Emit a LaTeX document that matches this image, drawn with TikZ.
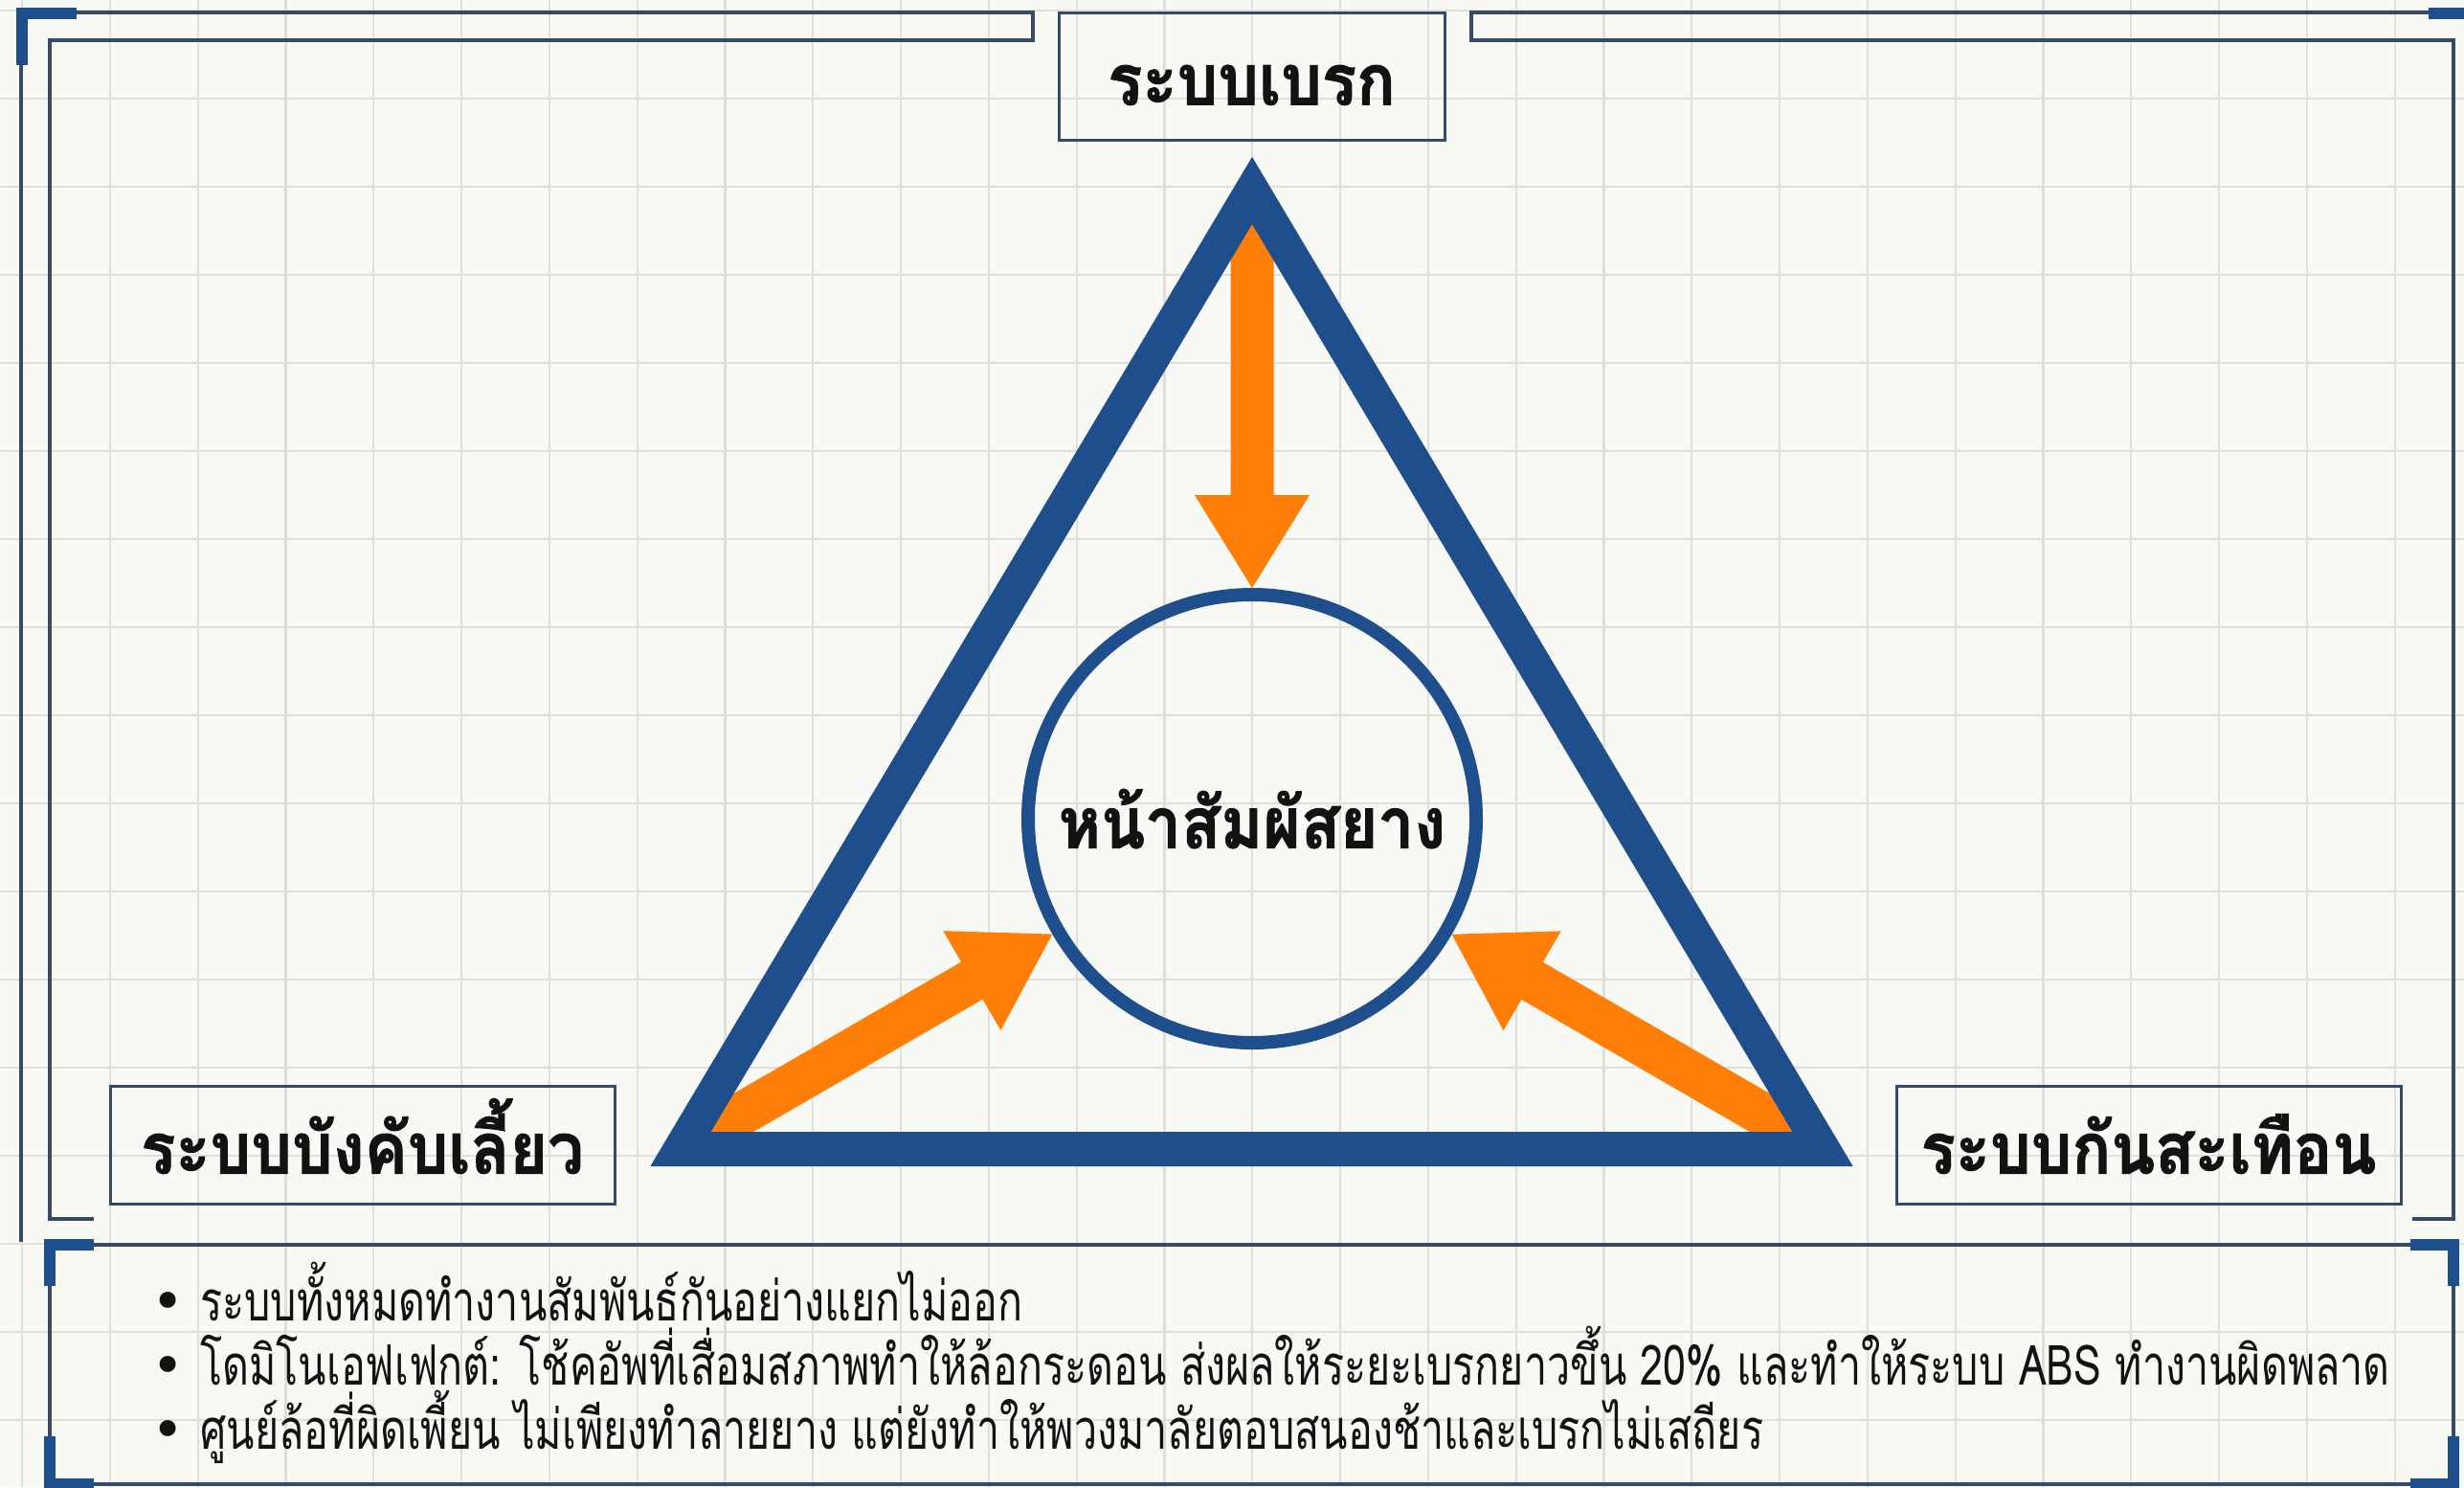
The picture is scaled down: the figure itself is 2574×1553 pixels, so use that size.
\documentclass[tikz,border=0pt]{standalone}
\usepackage{fontspec}
\usetikzlibrary{calc}
\newfontfamily\thaiN[Script=Thai,FakeStretch=0.742]{Loma}
\newfontfamily\thaiH[Script=Thai,FakeStretch=0.91,BoldFeatures={FakeBold=1.3}]{Loma}
\newfontfamily\dvs{DejaVu Sans}
\definecolor{bgc}{RGB}{248,248,244}
\definecolor{gridc}{RGB}{224,222,216}
\definecolor{framec}{RGB}{52,74,104}
\definecolor{navy}{RGB}{30,78,140}
\definecolor{flowc}{RGB}{255,126,8}
\definecolor{inkc}{RGB}{18,18,18}
\tikzset{
  gridline/.style={draw=gridc, line width=2.2pt},
  frameline/.style={draw=framec, line width=4pt},
  thickcorner/.style={draw=navy, line width=12pt, line join=miter},
  hdrbox/.style={draw=framec, line width=3pt, inner sep=0pt, text=inkc, text depth=0pt,
    font=\thaiH\bfseries\fontsize{74}{84}\selectfont},
  flow/.style={fill=flowc},
  noteline/.style={anchor=base west, inner sep=0pt, text=inkc,
    font=\thaiN\fontsize{58}{67}\selectfont},
}
\newcommand{\bul}{{\dvs •}\hspace{17pt}}
\begin{document}
\begin{tikzpicture}[x=1pt,y=-1pt]
\fill[bgc] (0,0) rectangle (2574,1553);
\useasboundingbox (0,0) rectangle (2574,1553);
\clip (0,0) rectangle (2574,1553);
% grid
\foreach \i in {0,...,27} \draw[gridline] ({23+91.8*\i},0) -- ({23+91.8*\i},1553);
\foreach \j in {0,...,16} \draw[gridline] (0,{11+92*\j}) -- (2574,{11+92*\j});
% outer / inner frame
\draw[frameline] (22,1297) -- (22,13) -- (1079,13) -- (1079,42) -- (52,42) -- (52,1273) -- (98,1273);
\draw[frameline] (2580,13) -- (1537,13) -- (1537,42) -- (2563,42) -- (2563,1273) -- (2520,1273);
\draw[thickcorner] (23,68) -- (23,13.5) -- (80,13.5);
\draw[thickcorner] (2537,13.5) -- (2590,13.5);
% bottom panel
\draw[frameline] (52,1300) rectangle (2563,1550);
\draw[thickcorner] (52,1343) -- (52,1300) -- (98,1300);
\draw[thickcorner] (2518,1300) -- (2563,1300) -- (2563,1343);
\draw[thickcorner] (52,1500) -- (52,1550) -- (98,1550);
\draw[thickcorner] (2518,1550) -- (2563,1550) -- (2563,1500);
% boxes
\node[hdrbox, text height=60pt, minimum width=403pt, minimum height=133pt] (brake) at (1307.5,79.5) {ระบบเบรก};
\node[hdrbox, text height=60pt, minimum width=527pt, minimum height=123pt] (steer) at (378.5,1195.5) {ระบบบังคับเลี้ยว};
\node[hdrbox, text height=60pt, minimum width=527pt, minimum height=123pt] (susp) at (2244.5,1195.5) {ระบบกันสะเทือน};
% hub
\node[circle, draw=navy, line width=14pt, minimum size=468pt, inner sep=0pt, text=inkc,
  font=\thaiH\bfseries\fontsize{74}{84}\selectfont] (hub) at (1308,855) {หน้าสัมผัสยาง};
% triangle corners
\coordinate (tA) at (1308,199);
\coordinate (tB) at (711,1200);
\coordinate (tC) at (1904,1200);
% arrows
\foreach \v in {tA,tB,tC} {
  \coordinate (E) at ($(hub.center)!241pt!(\v)$);
  \coordinate (S) at ($(\v)!10pt!(hub.center)$);
  \coordinate (H) at ($(E)!97pt!(S)$);
  \fill[flow] ($(S)!22.5pt!90:(E)$) -- ($(H)!22.5pt!90:(E)$) -- ($(H)!60pt!90:(E)$) -- (E)
    -- ($(H)!60pt!-90:(E)$) -- ($(H)!22.5pt!-90:(E)$) -- ($(S)!22.5pt!-90:(E)$) -- cycle;
}
\draw[navy, line width=36pt, line join=miter] (tA) -- (tB) -- (tC) -- cycle;
% notes
\node[noteline] (noteA) at (158,1379) {\bul ระบบทั้งหมดทำงานสัมพันธ์กันอย่างแยกไม่ออก};
\node[noteline] (noteB) at (158,1446) {\bul โดมิโนเอฟเฟกต์: โช้คอัพที่เสื่อมสภาพทำให้ล้อกระดอน ส่งผลให้ระยะเบรกยาวขึ้น 20\% และทำให้ระบบ ABS ทำงานผิดพลาด};
\node[noteline] (noteC) at (158,1513) {\bul ศูนย์ล้อที่ผิดเพี้ยน ไม่เพียงทำลายยาง แต่ยังทำให้พวงมาลัยตอบสนองช้าและเบรกไม่เสถียร};
\end{tikzpicture}
\end{document}
